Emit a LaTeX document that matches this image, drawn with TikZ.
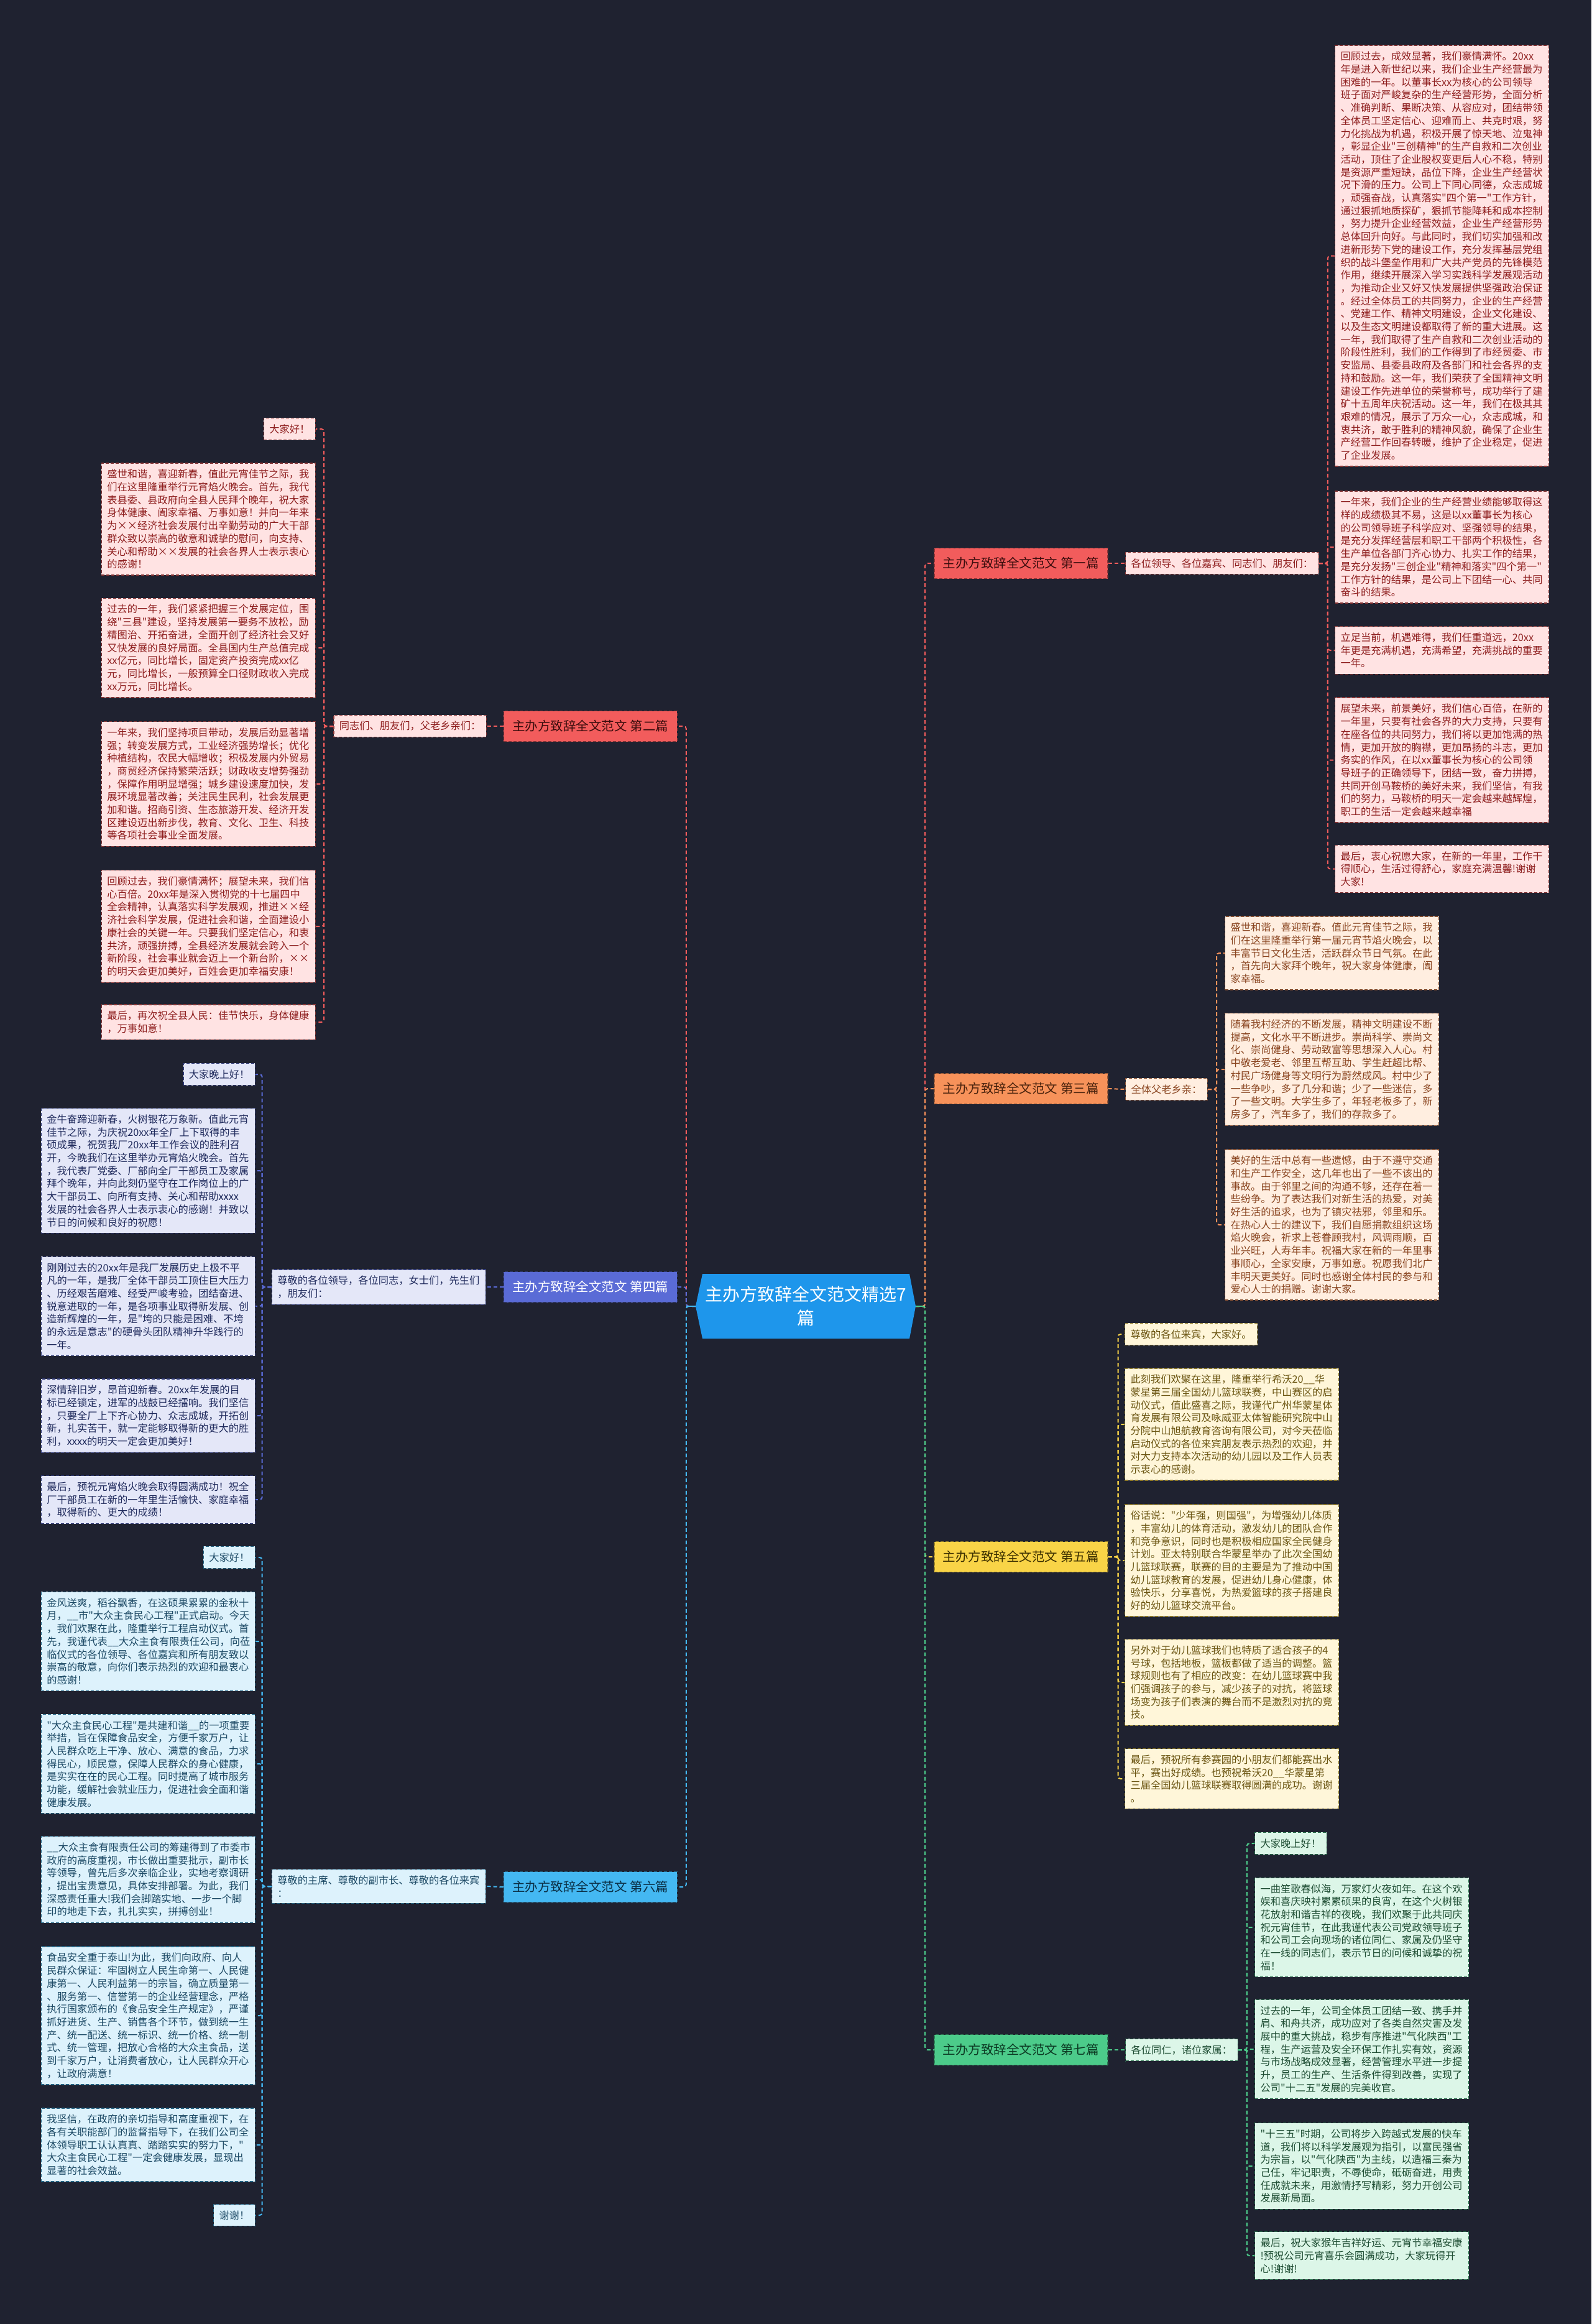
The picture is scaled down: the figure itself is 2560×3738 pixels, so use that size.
\documentclass[tikz,border=0pt]{standalone}
\usepackage{fontspec}
\newfontfamily\cjk{Noto Sans CJK SC}
\usetikzlibrary{calc}
\definecolor{bgc}{HTML}{1F2230}
\definecolor{ctrc}{HTML}{1E96EB}
% red
\definecolor{colR}{HTML}{F25C5C}\definecolor{lfR}{HTML}{FFE3E3}\definecolor{txR}{HTML}{8E1E1E}\definecolor{tbR}{HTML}{3A0D0D}
% orange
\definecolor{colO}{HTML}{F7925A}\definecolor{lfO}{HTML}{FFEEE0}\definecolor{txO}{HTML}{8A4520}\definecolor{tbO}{HTML}{4A230D}
% blue
\definecolor{colB}{HTML}{5A6BD6}\definecolor{lfB}{HTML}{E4E7F8}\definecolor{txB}{HTML}{1F2A5C}\definecolor{tbB}{HTML}{FFFFFF}
% yellow
\definecolor{colY}{HTML}{F9D447}\definecolor{lfY}{HTML}{FFF6D9}\definecolor{txY}{HTML}{6B5512}\definecolor{tbY}{HTML}{3D3000}
% sky
\definecolor{colS}{HTML}{44B8F2}\definecolor{lfS}{HTML}{DDF2FC}\definecolor{txS}{HTML}{1B4864}\definecolor{tbS}{HTML}{0B2F45}
% green
\definecolor{colG}{HTML}{4CCB8A}\definecolor{lfG}{HTML}{DCF6E8}\definecolor{txG}{HTML}{1E4D33}\definecolor{tbG}{HTML}{0D3B24}
\tikzset{
  txt/.style={font=\cjk\fontsize{16.25}{20.7}\selectfont, inner xsep=9pt, inner ysep=10pt, align=left, line width=1.3pt, dash pattern=on 5pt off 3pt},
  wide/.style={text width=326pt},
  nR/.style={txt, fill=lfR, draw=colR!55!black, text=txR},
  nO/.style={txt, fill=lfO, draw=colO!55!black, text=txO},
  nB/.style={txt, fill=lfB, draw=colB!55!black, text=txB},
  nY/.style={txt, fill=lfY, draw=colY!55!black, text=txY},
  nS/.style={txt, fill=lfS, draw=colS!55!black, text=txS},
  nG/.style={txt, fill=lfG, draw=colG!55!black, text=txG},
  br/.style={font=\cjk\fontsize{20.5}{24}\selectfont, minimum width=279pt, minimum height=49pt, inner sep=0pt, line width=1.5pt, dash pattern=on 5pt off 3pt},
  bR/.style={br, fill=colR, draw=colR!60!black, text=tbR},
  bO/.style={br, fill=colO, draw=colO!60!black, text=tbO},
  bB/.style={br, fill=colB, draw=colB!60!black, text=tbB},
  bY/.style={br, fill=colY, draw=colY!60!black, text=tbY},
  bS/.style={br, fill=colS, draw=colS!60!black, text=tbS},
  bG/.style={br, fill=colG, draw=colG!60!black, text=tbG},
  con/.style={line width=2pt, dash pattern=on 6pt off 4pt, rounded corners=4pt},
  cR/.style={con, draw=colR}, cO/.style={con, draw=colO}, cB/.style={con, draw=colB},
  cY/.style={con, draw=colY}, cS/.style={con, draw=colS}, cG/.style={con, draw=colG},
}
\begin{document}
\begin{tikzpicture}[x=1pt,y=-1pt]
\useasboundingbox (0,0) rectangle (2560,3738);
\fill[bgc] (0,0) rectangle (2560,3738);

% ---------- centre ----------
\fill[ctrc] (1130,2049) -- (1463,2049) -- (1473,2101) -- (1463,2153) -- (1130,2153) -- (1119,2101) -- cycle;
\node[font=\cjk\fontsize{28}{38}\selectfont, text=white, align=center, minimum width=354pt, minimum height=104pt, inner sep=0pt] (center) at (1296,2101) {主办方致辞全文范文精选7\\篇};

% ---------- branch nodes ----------
\node[bR, anchor=west] (b1) at (1502,906) {主办方致辞全文范文 第一篇};
\node[bR, anchor=east] (b2) at (1090,1168) {主办方致辞全文范文 第二篇};
\node[bO, anchor=west] (b3) at (1502,1751) {主办方致辞全文范文 第三篇};
\node[bB, anchor=east] (b4) at (1090,2070) {主办方致辞全文范文 第四篇};
\node[bY, anchor=west] (b5) at (1502,2504) {主办方致辞全文范文 第五篇};
\node[bS, anchor=east] (b6) at (1090,3035) {主办方致辞全文范文 第六篇};
\node[bG, anchor=west] (b7) at (1502,3297) {主办方致辞全文范文 第七篇};

% ---------- labels ----------
\node[nR, anchor=west] (lab1) at (1810,906) {各位领导、各位嘉宾、同志们、朋友们：};
\node[nR, anchor=east] (lab2) at (783,1168) {同志们、朋友们，父老乡亲们：};
\node[nO, anchor=west] (lab3) at (1810,1752) {全体父老乡亲：};
\node[nB, wide, anchor=east] (lab4) at (782,2070) {尊敬的各位领导，各位同志，女士们，先生们\\，朋友们：};
\node[nS, wide, anchor=east] (lab6) at (782,3034) {尊敬的主席、尊敬的副市长、尊敬的各位来宾\\：};
\node[nG, anchor=west] (lab7) at (1810,3297) {各位同仁，诸位家属：};

% ---------- article 1 ----------
\node[nR, wide, anchor=west] (l1a) at (2147,411.5) {回顾过去，成效显著，我们豪情满怀。20xx\\年是进入新世纪以来，我们企业生产经营最为\\困难的一年。以董事长xx为核心的公司领导\\班子面对严峻复杂的生产经营形势，全面分析\\、准确判断、果断决策、从容应对，团结带领\\全体员工坚定信心、迎难而上、共克时艰，努\\力化挑战为机遇，积极开展了惊天地、泣鬼神\\，彰显企业"三创精神"的生产自救和二次创业\\活动，顶住了企业股权变更后人心不稳，特别\\是资源严重短缺，品位下降，企业生产经营状\\况下滑的压力。公司上下同心同德，众志成城\\，顽强奋战，认真落实"四个第一"工作方针，\\通过狠抓地质探矿，狠抓节能降耗和成本控制\\，努力提升企业经营效益，企业生产经营形势\\总体回升向好。与此同时，我们切实加强和改\\进新形势下党的建设工作，充分发挥基层党组\\织的战斗堡垒作用和广大共产党员的先锋模范\\作用，继续开展深入学习实践科学发展观活动\\，为推动企业又好又快发展提供坚强政治保证\\。经过全体员工的共同努力，企业的生产经营\\、党建工作、精神文明建设，企业文化建设、\\以及生态文明建设都取得了新的重大进展。这\\一年，我们取得了生产自救和二次创业活动的\\阶段性胜利，我们的工作得到了市经贸委、市\\安监局、县委县政府及各部门和社会各界的支\\持和鼓励。这一年，我们荣获了全国精神文明\\建设工作先进单位的荣誉称号，成功举行了建\\矿十五周年庆祝活动。这一年，我们在极其其\\艰难的情况，展示了万众一心，众志成城，和\\衷共济，敢于胜利的精神风貌，确保了企业生\\产经营工作回春转暖，维护了企业稳定，促进\\了企业发展。};
\node[nR, wide, anchor=west] (l1b) at (2147,880) {一年来，我们企业的生产经营业绩能够取得这\\样的成绩极其不易，这是以xx董事长为核心\\的公司领导班子科学应对、坚强领导的结果，\\是充分发挥经营层和职工干部两个积极性，各\\生产单位各部门齐心协力、扎实工作的结果，\\是充分发扬"三创企业"精神和落实"四个第一"\\工作方针的结果，是公司上下团结一心、共同\\奋斗的结果。};
\node[nR, wide, anchor=west] (l1c) at (2147,1046) {立足当前，机遇难得，我们任重道远，20xx\\年更是充满机遇，充满希望，充满挑战的重要\\一年。};
\node[nR, wide, anchor=west] (l1d) at (2147,1222.5) {展望未来，前景美好，我们信心百倍，在新的\\一年里，只要有社会各界的大力支持，只要有\\在座各位的共同努力，我们将以更加饱满的热\\情，更加开放的胸襟，更加昂扬的斗志，更加\\务实的作风，在以xx董事长为核心的公司领\\导班子的正确领导下，团结一致，奋力拼搏，\\共同开创马鞍桥的美好未来，我们坚信，有我\\们的努力，马鞍桥的明天一定会越来越辉煌，\\职工的生活一定会越来越幸福};
\node[nR, wide, anchor=west] (l1e) at (2147,1397.5) {最后，衷心祝愿大家，在新的一年里，工作干\\得顺心，生活过得舒心，家庭充满温馨!谢谢\\大家!};

% ---------- article 2 ----------
\node[nR, anchor=east] (l2a) at (508,690) {大家好！};
\node[nR, wide, anchor=east] (l2b) at (508,835) {盛世和谐，喜迎新春，值此元宵佳节之际，我\\们在这里隆重举行元宵焰火晚会。首先，我代\\表县委、县政府向全县人民拜个晚年，祝大家\\身体健康、阖家幸福、万事如意！并向一年来\\为××经济社会发展付出辛勤劳动的广大干部\\群众致以崇高的敬意和诚挚的慰问，向支持、\\关心和帮助××发展的社会各界人士表示衷心\\的感谢！};
\node[nR, wide, anchor=east] (l2c) at (508,1042) {过去的一年，我们紧紧把握三个发展定位，围\\绕"三县"建设，坚持发展第一要务不放松，励\\精图治、开拓奋进，全面开创了经济社会又好\\又快发展的良好局面。全县国内生产总值完成\\xx亿元，同比增长，固定资产投资完成xx亿\\元，同比增长，一般预算全口径财政收入完成\\xx万元，同比增长。};
\node[nR, wide, anchor=east] (l2d) at (508,1261) {一年来，我们坚持项目带动，发展后劲显著增\\强；转变发展方式，工业经济强势增长；优化\\种植结构，农民大幅增收；积极发展内外贸易\\，商贸经济保持繁荣活跃；财政收支增势强劲\\，保障作用明显增强；城乡建设速度加快，发\\展环境显著改善；关注民生民利，社会发展更\\加和谐。招商引资、生态旅游开发、经济开发\\区建设迈出新步伐，教育、文化、卫生、科技\\等各项社会事业全面发展。};
\node[nR, wide, anchor=east] (l2e) at (508,1490) {回顾过去，我们豪情满怀；展望未来，我们信\\心百倍。20xx年是深入贯彻党的十七届四中\\全会精神，认真落实科学发展观，推进××经\\济社会科学发展，促进社会和谐，全面建设小\\康社会的关键一年。只要我们坚定信心，和衷\\共济，顽强拚搏，全县经济发展就会跨入一个\\新阶段，社会事业就会迈上一个新台阶，××\\的明天会更加美好，百姓会更加幸福安康！};
\node[nR, wide, anchor=east] (l2f) at (508,1644) {最后，再次祝全县人民：佳节快乐，身体健康\\，万事如意！};

% ---------- article 3 ----------
\node[nO, wide, anchor=west] (l3a) at (1970,1533) {盛世和谐，喜迎新春。值此元宵佳节之际，我\\们在这里隆重举行第一届元宵节焰火晚会，以\\丰富节日文化生活，活跃群众节日气氛。在此\\，首先向大家拜个晚年，祝大家身体健康，阖\\家幸福。};
\node[nO, wide, anchor=west] (l3b) at (1970,1720) {随着我村经济的不断发展，精神文明建设不断\\提高，文化水平不断进步。崇尚科学、崇尚文\\化、崇尚健身、劳动致富等思想深入人心。村\\中敬老爱老、邻里互帮互助、学生赶超比帮、\\村民广场健身等文明行为蔚然成风。村中少了\\一些争吵，多了几分和谐；少了一些迷信，多\\了一些文明。大学生多了，年轻老板多了，新\\房多了，汽车多了，我们的存款多了。};
\node[nO, wide, anchor=west] (l3c) at (1970,1970) {美好的生活中总有一些遗憾，由于不遵守交通\\和生产工作安全，这几年也出了一些不该出的\\事故。由于邻里之间的沟通不够，还存在着一\\些纷争。为了表达我们对新生活的热爱，对美\\好生活的追求，也为了镇灾祛邪，邻里和乐。\\在热心人士的建议下，我们自愿捐款组织这场\\焰火晚会，祈求上苍眷顾我村，风调雨顺，百\\业兴旺，人寿年丰。祝福大家在新的一年里事\\事顺心，全家安康，万事如意。祝愿我们北广\\丰明天更美好。同时也感谢全体村民的参与和\\爱心人士的捐赠。谢谢大家。};

% ---------- article 4 ----------
\node[nB, anchor=east] (l4a) at (411,1728) {大家晚上好！};
\node[nB, wide, anchor=east] (l4b) at (411,1883) {金牛奋蹄迎新春，火树银花万象新。值此元宵\\佳节之际，为庆祝20xx年全厂上下取得的丰\\硕成果，祝贺我厂20xx年工作会议的胜利召\\开，今晚我们在这里举办元宵焰火晚会。首先\\，我代表厂党委、厂部向全厂干部员工及家属\\拜个晚年，并向此刻仍坚守在工作岗位上的广\\大干部员工、向所有支持、关心和帮助xxxx\\发展的社会各界人士表示衷心的感谢！并致以\\节日的问候和良好的祝愿！};
\node[nB, wide, anchor=east] (l4c) at (411,2101) {刚刚过去的20xx年是我厂发展历史上极不平\\凡的一年，是我厂全体干部员工顶住巨大压力\\、历经艰苦磨难、经受严峻考验，团结奋进、\\锐意进取的一年，是各项事业取得新发展、创\\造新辉煌的一年，是"垮的只能是困难、不垮\\的永远是意志"的硬骨头团队精神升华践行的\\一年。};
\node[nB, wide, anchor=east] (l4d) at (411,2277) {深情辞旧岁，昂首迎新春。20xx年发展的目\\标已经锁定，进军的战鼓已经擂响。我们坚信\\，只要全厂上下齐心协力、众志成城，开拓创\\新，扎实苦干，就一定能够取得新的更大的胜\\利，xxxx的明天一定会更加美好！};
\node[nB, wide, anchor=east] (l4e) at (411,2412) {最后，预祝元宵焰火晚会取得圆满成功！祝全\\厂干部员工在新的一年里生活愉快、家庭幸福\\，取得新的、更大的成绩！};

% ---------- article 5 ----------
\node[nY, anchor=west] (l5a) at (1809,2146) {尊敬的各位来宾，大家好。};
\node[nY, wide, anchor=west] (l5b) at (1809,2291) {此刻我们欢聚在这里，隆重举行希沃20\_\_华\\蒙星第三届全国幼儿篮球联赛，中山赛区的启\\动仪式，值此盛喜之际，我谨代广州华蒙星体\\育发展有限公司及咏威亚太体智能研究院中山\\分院中山旭航教育咨询有限公司，对今天莅临\\启动仪式的各位来宾朋友表示热烈的欢迎，并\\对大力支持本次活动的幼儿园以及工作人员表\\示衷心的感谢。};
\node[nY, wide, anchor=west] (l5c) at (1809,2510) {俗话说："少年强，则国强"，为增强幼儿体质\\，丰富幼儿的体育活动，激发幼儿的团队合作\\和竞争意识，同时也是积极相应国家全民健身\\计划。亚太特别联合华蒙星举办了此次全国幼\\儿篮球联赛，联赛的目的主要是为了推动中国\\幼儿篮球教育的发展，促进幼儿身心健康，体\\验快乐，分享喜悦，为热爱篮球的孩子搭建良\\好的幼儿篮球交流平台。};
\node[nY, wide, anchor=west] (l5d) at (1809,2706) {另外对于幼儿篮球我们也特质了适合孩子的4\\号球，包括地板，篮板都做了适当的调整。篮\\球规则也有了相应的改变：在幼儿篮球赛中我\\们强调孩子的参与，减少孩子的对抗，将篮球\\场变为孩子们表演的舞台而不是激烈对抗的竞\\技。};
\node[nY, wide, anchor=west] (l5e) at (1809,2861) {最后，预祝所有参赛园的小朋友们都能赛出水\\平，赛出好成绩。也预祝希沃20\_\_华蒙星第\\三届全国幼儿篮球联赛取得圆满的成功。谢谢\\。};

% ---------- article 6 ----------
\node[nS, anchor=east] (l6a) at (411,2505) {大家好！};
\node[nS, wide, anchor=east] (l6b) at (411,2640) {金风送爽，稻谷飘香，在这硕果累累的金秋十\\月，\_\_市"大众主食民心工程"正式启动。今天\\，我们欢聚在此，隆重举行工程启动仪式。首\\先，我谨代表\_\_大众主食有限责任公司，向莅\\临仪式的各位领导、各位嘉宾和所有朋友致以\\崇高的敬意，向你们表示热烈的欢迎和最衷心\\的感谢！};
\node[nS, wide, anchor=east] (l6c) at (411,2837) {"大众主食民心工程"是共建和谐\_\_的一项重要\\举措，旨在保障食品安全，方便千家万户，让\\人民群众吃上干净、放心、满意的食品，力求\\得民心，顺民意，保障人民群众的身心健康，\\是实实在在的民心工程。同时提高了城市服务\\功能，缓解社会就业压力，促进社会全面和谐\\健康发展。};
\node[nS, wide, anchor=east] (l6d) at (411,3023) {\_\_大众主食有限责任公司的筹建得到了市委市\\政府的高度重视，市长做出重要批示，副市长\\等领导，曾先后多次亲临企业，实地考察调研\\，提出宝贵意见，具体安排部署。为此，我们\\深感责任重大!我们会脚踏实地、一步一个脚\\印的地走下去，扎扎实实，拼搏创业！};
\node[nS, wide, anchor=east] (l6e) at (411,3242) {食品安全重于泰山!为此，我们向政府、向人\\民群众保证：牢固树立人民生命第一、人民健\\康第一、人民利益第一的宗旨，确立质量第一\\、服务第一、信誉第一的企业经营理念，严格\\执行国家颁布的《食品安全生产规定》，严谨\\抓好进货、生产、销售各个环节，做到统一生\\产、统一配送、统一标识、统一价格、统一制\\式、统一管理，把放心合格的大众主食品，送\\到千家万户，让消费者放心，让人民群众开心\\，让政府满意！};
\node[nS, wide, anchor=east] (l6f) at (411,3450) {我坚信，在政府的亲切指导和高度重视下，在\\各有关职能部门的监督指导下，在我们公司全\\体领导职工认认真真、踏踏实实的努力下，"\\大众主食民心工程"一定会健康发展，显现出\\显著的社会效益。};
\node[nS, anchor=east] (l6g) at (411,3563) {谢谢！};

% ---------- article 7 ----------
\node[nG, anchor=west] (l7a) at (2018,2965) {大家晚上好！};
\node[nG, wide, anchor=west] (l7b) at (2018,3100) {一曲笙歌春似海，万家灯火夜如年。在这个欢\\娱和喜庆映衬累累硕果的良宵，在这个火树银\\花放射和谐吉祥的夜晚，我们欢聚于此共同庆\\祝元宵佳节，在此我谨代表公司党政领导班子\\和公司工会向现场的诸位同仁、家属及仍坚守\\在一线的同志们，表示节日的问候和诚挚的祝\\福！};
\node[nG, wide, anchor=west] (l7c) at (2018,3296) {过去的一年，公司全体员工团结一致、携手并\\肩、和舟共济，成功应对了各类自然灾害及发\\展中的重大挑战，稳步有序推进"气化陕西"工\\程，生产运营及安全环保工作扎实有效，资源\\与市场战略成效显著，经营管理水平进一步提\\升，员工的生产、生活条件得到改善，实现了\\公司"十二五"发展的完美收官。};
\node[nG, wide, anchor=west] (l7d) at (2018,3484) {"十三五"时期，公司将步入跨越式发展的快车\\道，我们将以科学发展观为指引，以富民强省\\为宗旨，以"气化陕西"为主线，以造福三秦为\\己任，牢记职责，不辱使命，砥砺奋进，用责\\任成就未来，用激情抒写精彩，努力开创公司\\发展新局面。};
\node[nG, wide, anchor=west] (l7e) at (2018,3628) {最后，祝大家猴年吉祥好运、元宵节幸福安康\\!预祝公司元宵喜乐会圆满成功，大家玩得开\\心!谢谢!};

% ---------- connectors: centre to branches ----------
\draw[cR] (center.east) -- ++(15,0) |- (b1.west);
\draw[cO] (center.east) -- ++(15,0) |- (b3.west);
\draw[cY] (center.east) -- ++(15,0) |- (b5.west);
\draw[cG] (center.east) -- ++(15,0) |- (b7.west);
\draw[cR] (center.west) -- ++(-15,0) |- (b2.east);
\draw[cB] (center.west) -- ++(-15,0) |- (b4.east);
\draw[cS] (center.west) -- ++(-15,0) |- (b6.east);
\draw[colS, line width=2pt] (center.west) -- ++(-15,0);
\draw[colG, line width=2pt] (center.east) -- ++(15,0);

% ---------- branch to label ----------
\draw[cR] (b1.east) -- (lab1.west);
\draw[cR] (b2.west) -- (lab2.east);
\draw[cO] (b3.east) -- (lab3.west);
\draw[cB] (b4.west) -- (lab4.east);
\draw[cS] (b6.west) -- (lab6.east);
\draw[cG] (b7.east) -- (lab7.west);

% ---------- label to leaves ----------
\foreach \l in {l1a,l1b,l1c,l1d,l1e} \draw[cR] (lab1.east) -- ++(14,0) |- (\l.west);
\foreach \l in {l2a,l2b,l2c,l2d,l2e,l2f} \draw[cR] (lab2.west) -- ++(-15,0) |- (\l.east);
\foreach \l in {l3a,l3b,l3c} \draw[cO] (lab3.east) -- ++(14,0) |- (\l.west);
\foreach \l in {l4a,l4b,l4c,l4d,l4e} \draw[cB] (lab4.west) -- ++(-15,0) |- (\l.east);
\foreach \l in {l5a,l5b,l5c,l5d,l5e} \draw[cY] (b5.east) -- ++(16,0) |- (\l.west);
\foreach \l in {l6a,l6b,l6c,l6d,l6e,l6f,l6g} \draw[cS] (lab6.west) -- ++(-15,0) |- (\l.east);
\foreach \l in {l7a,l7b,l7c,l7d,l7e} \draw[cG] (lab7.east) -- ++(14,0) |- (\l.west);
\end{tikzpicture}
\end{document}
